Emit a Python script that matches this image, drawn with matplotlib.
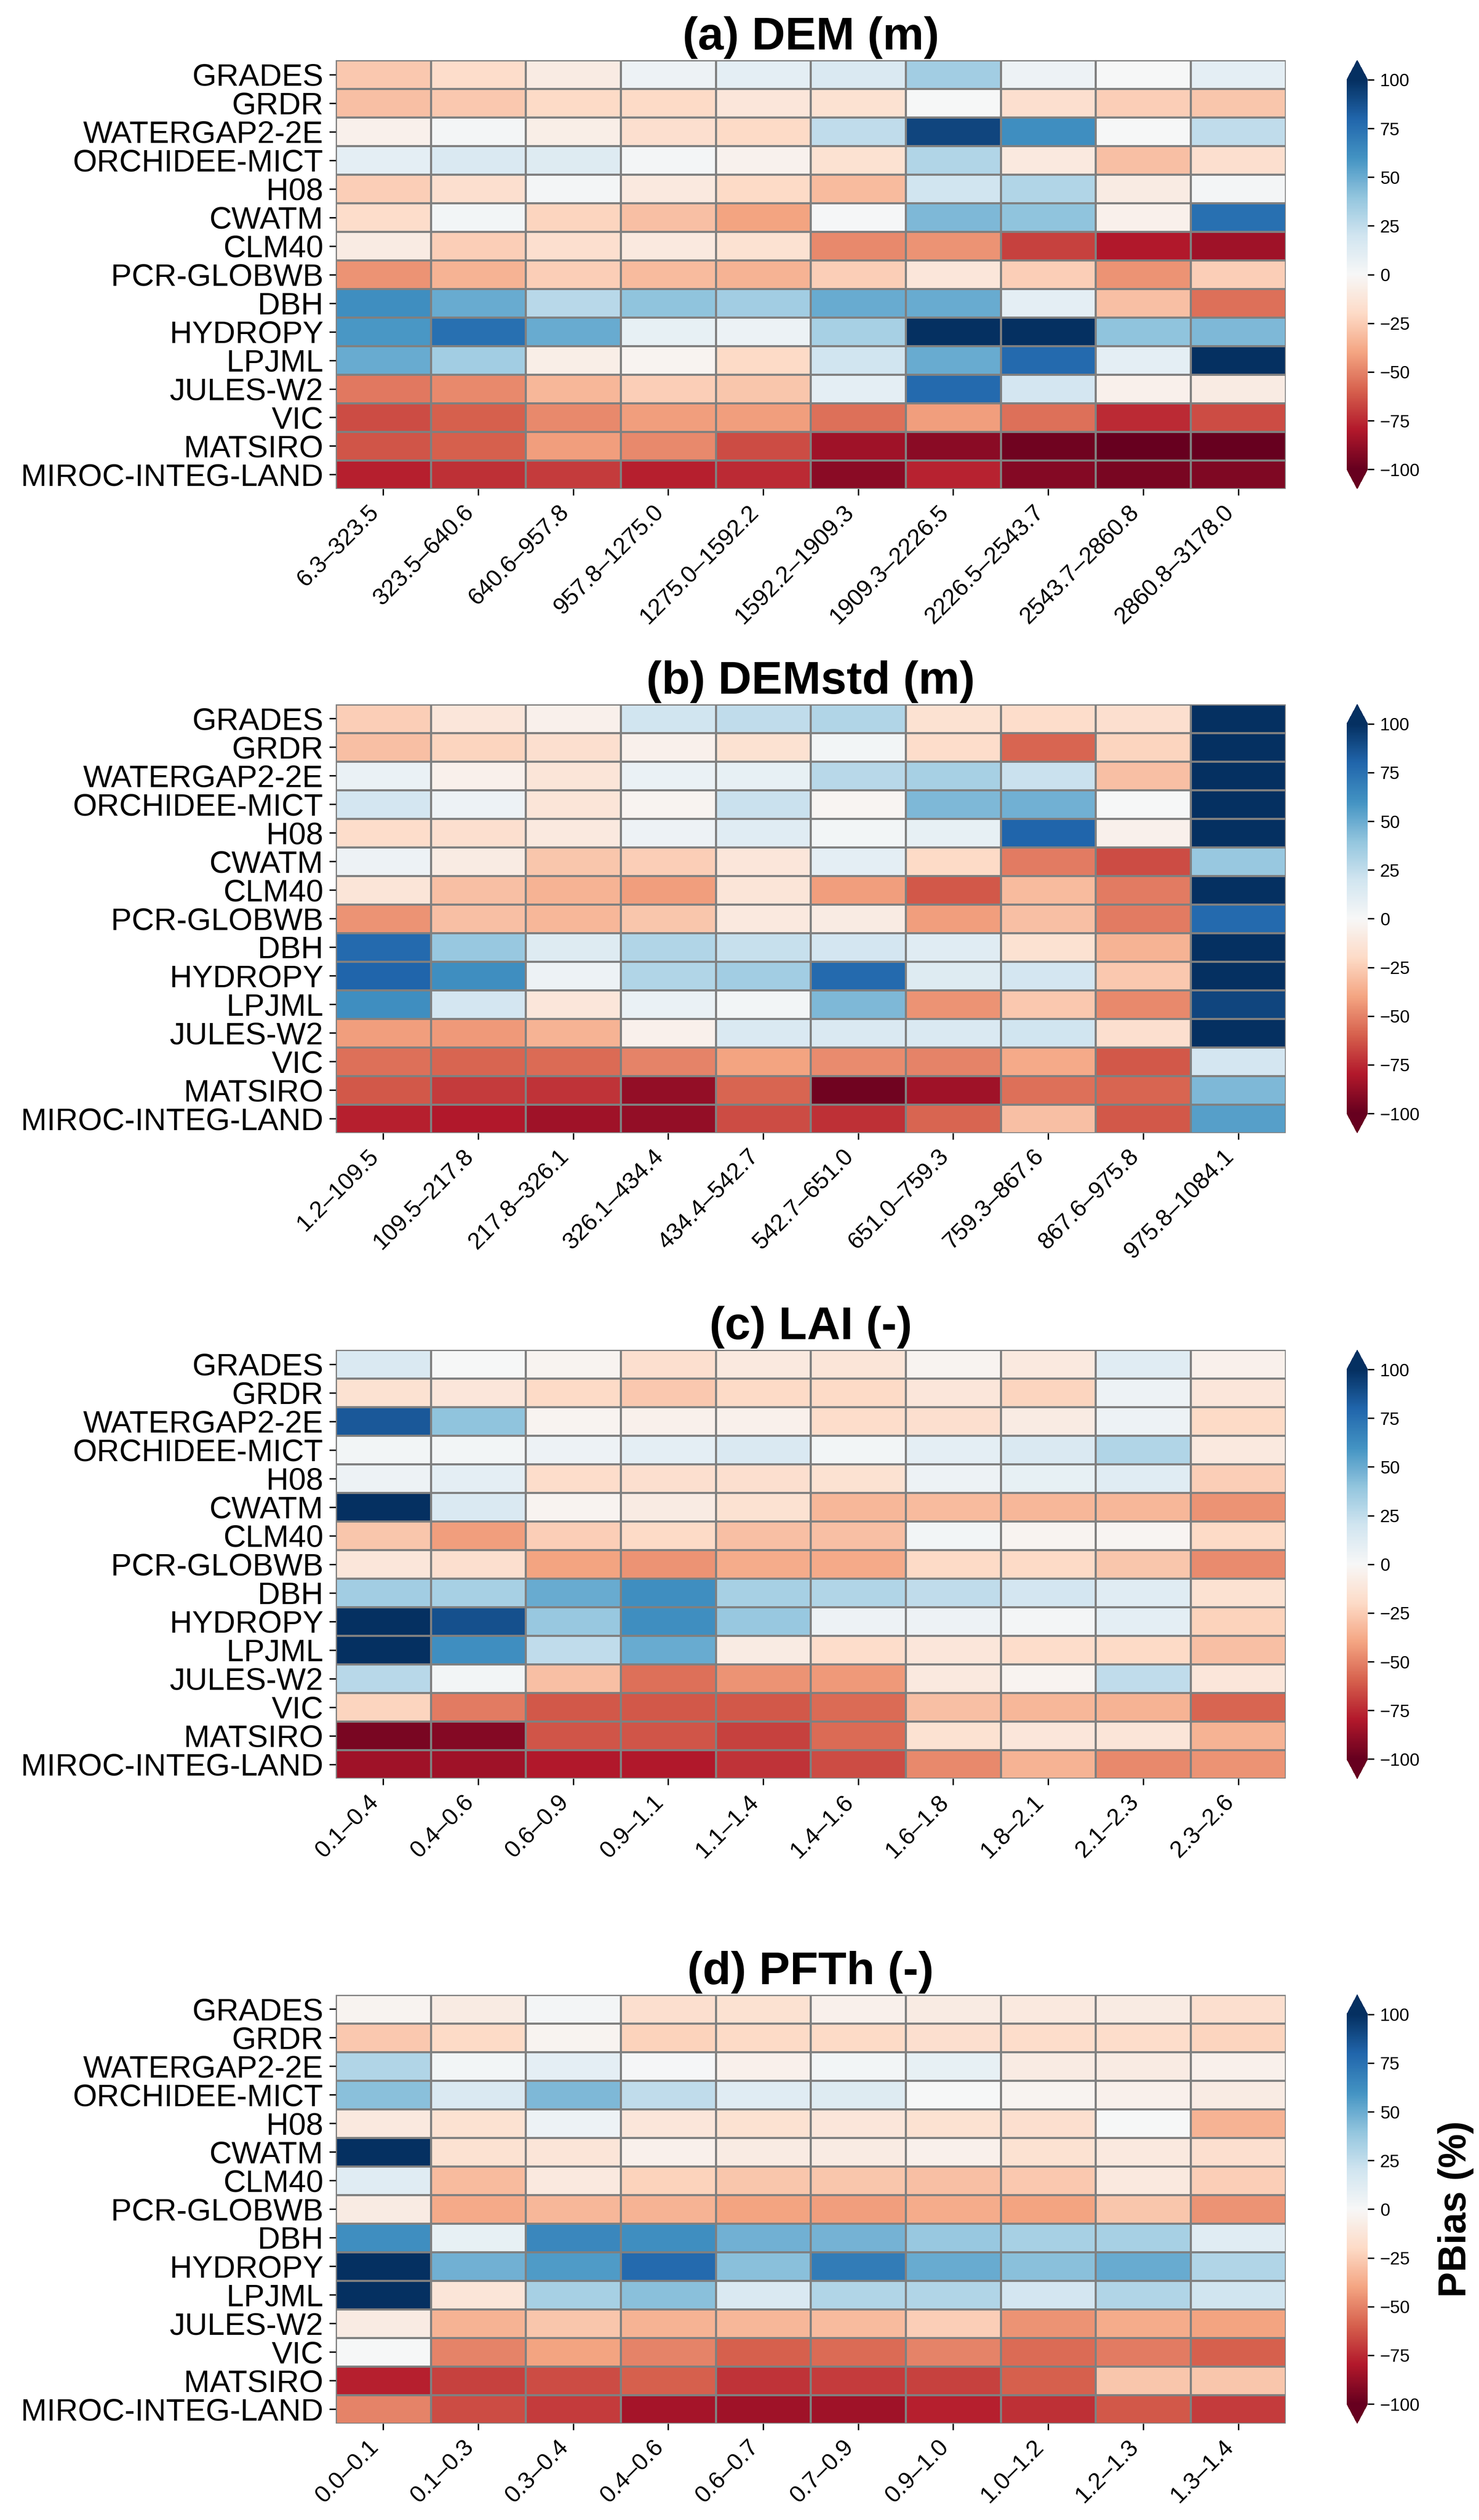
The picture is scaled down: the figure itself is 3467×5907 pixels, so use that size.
import numpy as np
import matplotlib
matplotlib.use('Agg')
import matplotlib.pyplot as plt

plt.rcParams['font.family'] = ['Liberation Sans', 'DejaVu Sans']

models = ['GRADES', 'GRDR', 'WATERGAP2-2E', 'ORCHIDEE-MICT', 'H08', 'CWATM',
          'CLM40', 'PCR-GLOBWB', 'DBH', 'HYDROPY', 'LPJML', 'JULES-W2', 'VIC',
          'MATSIRO', 'MIROC-INTEG-LAND']

# bin labels for each attribute
dem_bins = ['6.3–323.5', '323.5–640.6', '640.6–957.8', '957.8–1275.0', '1275.0–1592.2',
            '1592.2–1909.3', '1909.3–2226.5', '2226.5–2543.7', '2543.7–2860.8', '2860.8–3178.0']
demstd_bins = ['1.2–109.5', '109.5–217.8', '217.8–326.1', '326.1–434.4', '434.4–542.7',
               '542.7–651.0', '651.0–759.3', '759.3–867.6', '867.6–975.8', '975.8–1084.1']
lai_bins = ['0.1–0.4', '0.4–0.6', '0.6–0.9', '0.9–1.1', '1.1–1.4',
            '1.4–1.6', '1.6–1.8', '1.8–2.1', '2.1–2.3', '2.3–2.6']
pfth_bins = ['0.0–0.1', '0.1–0.3', '0.3–0.4', '0.4–0.6', '0.6–0.7',
             '0.7–0.9', '0.9–1.0', '1.0–1.2', '1.2–1.3', '1.3–1.4']

# PBias (%) per model (rows) and bin (columns)
dem_bias = [
    [-27, -18, -8, 5, 10, 15, 35, 5, 0, 10],
    [-30, -27, -20, -20, -12, -15, 0, -17, -25, -28],
    [-5, 2, -7, -17, -20, 25, 92, 62, 0, 25],
    [10, 15, 13, 2, -4, -15, 30, -10, -30, -17],
    [-25, -17, 2, -10, -20, -32, 20, 30, -8, 2],
    [-18, 3, -22, -30, -40, 1, 45, 40, -5, 75],
    [-8, -25, -17, -10, -15, -48, -45, -68, -80, -85],
    [-45, -35, -25, -32, -35, -25, -12, -25, -45, -25],
    [62, 50, 28, 40, 35, 50, 50, 10, -30, -55],
    [58, 75, 50, 8, 6, 33, 100, 100, 40, 45],
    [50, 35, -7, -3, -20, 20, 50, 78, 10, 100],
    [-53, -48, -33, -25, -28, 10, 78, 18, -5, -8],
    [-65, -60, -48, -42, -42, -55, -42, -55, -75, -65],
    [-63, -60, -42, -48, -65, -85, -90, -97, -100, -100],
    [-78, -73, -70, -78, -75, -90, -77, -92, -95, -93],
]

demstd_bias = [
    [-25, -12, -5, 20, 25, 30, -15, -18, -17, 100],
    [-30, -22, -17, -5, -15, 3, -18, -58, -22, 100],
    [7, -5, -13, 7, 8, 28, 33, 22, -30, 100],
    [18, 5, -13, -3, 22, -2, 45, 48, 0, 100],
    [-18, -17, -10, 5, 12, 3, 8, 80, -5, 100],
    [5, -8, -28, -25, -12, 10, -20, -52, -65, 38],
    [-13, -30, -35, -42, -13, -42, -62, -32, -52, 100],
    [-45, -30, -33, -28, -10, -8, -42, -30, -52, 78],
    [78, 38, 13, 30, 23, 18, 12, -15, -35, 100],
    [80, 62, 5, 30, 35, 78, 13, 18, -27, 100],
    [62, 18, -12, 7, 3, 45, -45, -27, -48, 92],
    [-42, -43, -35, -5, 15, 15, 15, 20, -17, 100],
    [-55, -58, -57, -50, -40, -47, -50, -38, -62, 18],
    [-62, -70, -72, -88, -58, -97, -85, -55, -58, 45],
    [-78, -80, -85, -88, -65, -73, -58, -30, -62, 55],
]

lai_bias = [
    [15, 0, -3, -17, -10, -13, -3, -10, 12, -5],
    [-15, -12, -20, -27, -20, -20, -12, -22, 5, -12],
    [85, 40, -3, -5, -5, -18, -17, -8, 5, -20],
    [3, 3, 5, 10, 15, 3, 10, 15, 30, -10],
    [5, 10, -18, -17, -17, -15, 5, 8, 12, -25],
    [100, 15, -3, -8, -15, -33, -32, -33, -33, -45],
    [-28, -42, -25, -20, -30, -30, 3, -3, -2, -20],
    [-12, -17, -40, -45, -37, -38, -20, -20, -28, -47],
    [35, 33, 50, 62, 33, 30, 25, 18, 12, -15],
    [100, 88, 38, 62, 38, 5, 5, 2, 10, -23],
    [100, 62, 25, 50, -8, -18, -12, -18, -20, -30],
    [28, 3, -30, -55, -45, -43, -10, -3, 25, -12],
    [-22, -52, -62, -62, -62, -57, -30, -33, -35, -58],
    [-95, -92, -63, -63, -68, -57, -15, -12, -13, -35],
    [-85, -85, -80, -80, -72, -65, -48, -35, -48, -45],
]

pfth_bias = [
    [-3, -8, 2, -17, -15, -5, -8, -10, -8, -17],
    [-27, -20, -3, -23, -20, -20, -17, -18, -18, -22],
    [30, 3, 10, 1, -5, 3, 8, -8, -8, -5],
    [42, 15, 45, 25, 12, 13, 0, -3, -5, -8],
    [-10, -15, 5, -12, -15, -12, -15, -17, 0, -35],
    [100, -15, -13, -5, -8, -8, -5, -15, -10, -17],
    [12, -32, -10, -23, -28, -28, -30, -27, -10, -25],
    [-8, -38, -33, -35, -40, -42, -37, -40, -28, -45],
    [62, 8, 65, 62, 48, 47, 38, 33, 33, 12],
    [100, 48, 57, 78, 42, 70, 50, 42, 50, 30],
    [100, -13, 33, 42, 15, 30, 30, 18, 30, 20],
    [-8, -35, -28, -35, -33, -32, -25, -45, -37, -40],
    [0, -50, -40, -50, -60, -57, -50, -57, -52, -60],
    [-78, -68, -65, -60, -72, -70, -68, -60, -28, -28],
    [-50, -65, -70, -83, -85, -85, -78, -73, -62, -70],
]

panels = [
    ('(a) DEM (m)', dem_bins, dem_bias),
    ('(b) DEMstd (m)', demstd_bins, demstd_bias),
    ('(c) LAI (-)', lai_bins, lai_bias),
    ('(d) PFTh (-)', pfth_bins, pfth_bias),
]

fig = plt.figure(figsize=(3467 / 300, 5907 / 300), dpi=300)

bottoms = [0.8060, 0.5504, 0.2942, 0.0383]
height = 0.1701
left, width = 0.2270, 0.6423
cb_left, cb_width = 0.9106, 0.0141

for i, (title, bins, vals) in enumerate(panels):
    data = np.array(vals, dtype=float)
    ax = fig.add_axes([left, bottoms[i], width, height])
    mesh = ax.pcolormesh(np.arange(len(bins) + 1), np.arange(len(models) + 1), data,
                         cmap='RdBu', vmin=-100, vmax=100,
                         edgecolors='gray', linewidth=0.8)
    ax.set_xlim(0, len(bins))
    ax.set_ylim(len(models), 0)
    ax.set_xticks(np.arange(len(bins)) + 0.5)
    ax.set_xticklabels(bins, rotation=45, ha='right', fontsize=13.3)
    ax.set_yticks(np.arange(len(models)) + 0.5)
    ax.set_yticklabels(models, fontsize=17.5)
    for s in ax.spines.values():
        s.set_visible(False)
    ax.set_title(title, fontsize=26, fontweight='bold')

    cax = fig.add_axes([cb_left, bottoms[i], cb_width, height])
    cb = fig.colorbar(mesh, cax=cax, extend='both', ticks=np.arange(-100, 101, 25))
    cb.outline.set_visible(False)
    cb.ax.tick_params(labelsize=10)
    if i == 3:
        cb.set_label('PBias (%)', fontsize=21.5, fontweight='bold', labelpad=10)

fig.savefig('out.png', dpi=300)
